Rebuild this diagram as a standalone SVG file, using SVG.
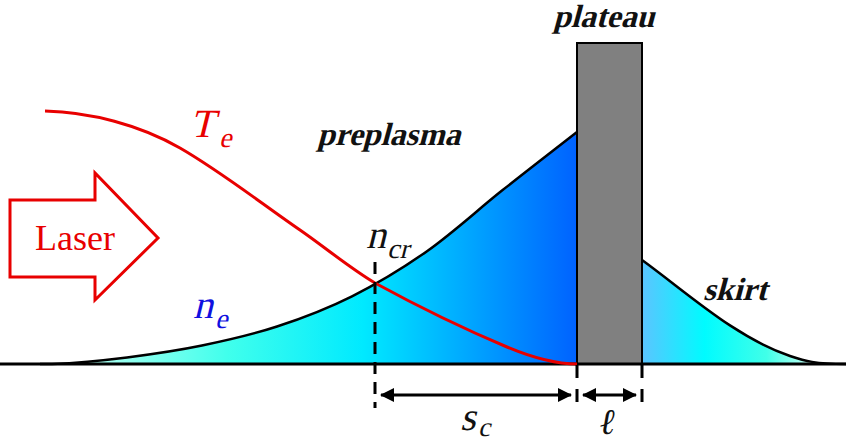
<svg xmlns="http://www.w3.org/2000/svg" width="846" height="441" viewBox="0 0 846 441">
<defs>
<linearGradient id="gPre" gradientUnits="userSpaceOnUse" x1="40" y1="0" x2="577" y2="0">
<stop offset="0" stop-color="#d8fff2"/>
<stop offset="0.35" stop-color="#40ffec"/>
<stop offset="0.6" stop-color="#00eaff"/>
<stop offset="1" stop-color="#0062ff"/>
</linearGradient>
<linearGradient id="gSkirt" gradientUnits="userSpaceOnUse" x1="642" y1="0" x2="820" y2="0">
<stop offset="0" stop-color="#5cc4ff"/>
<stop offset="0.35" stop-color="#00fbff"/>
<stop offset="0.7" stop-color="#40ffe8"/>
<stop offset="1" stop-color="#e0fff6"/>
</linearGradient>
<marker id="ah" viewBox="0 0 14 14" refX="13" refY="7" markerWidth="14" markerHeight="14" markerUnits="userSpaceOnUse" orient="auto-start-reverse">
<path d="M0,0 L14,7 L0,14 Z" fill="#000"/>
</marker>
</defs>
<style>
.curve{fill:none;stroke:#000;stroke-width:2.5;stroke-linejoin:round}
.red{fill:none;stroke:#e80000;stroke-width:3}
.dash{stroke:#000;stroke-width:3;stroke-dasharray:12 8}
.dim{stroke:#000;stroke-width:3;marker-start:url(#ah);marker-end:url(#ah)}
.math{font-family:"Liberation Serif","Times New Roman",serif;font-style:normal}
.lab{font-family:"Liberation Serif","Times New Roman",serif;font-weight:bold;font-size:32px;fill:#111}
</style>

<g id="preplasma">
<path fill="url(#gPre)" d="M52,364 C77,362.9 102,360.5 127,357.4 C152,354.3 177,350.65 202,345.5 C227,340.35 252,334.7 277,326.5 C302,318.3 327,308.85 352,296.3 C377,283.75 402,268.8 427,251.2 C452,233.6 477,210.5 502,190.6 C527,170.7 552,151.5 577,132 L577,364 Z"/>
<path class="curve" d="M40,364 L52,364 C77,362.9 102,360.5 127,357.4 C152,354.3 177,350.65 202,345.5 C227,340.35 252,334.7 277,326.5 C302,318.3 327,308.85 352,296.3 C377,283.75 402,268.8 427,251.2 C452,233.6 477,210.5 502,190.6 C527,170.7 552,151.5 577,132"/>
<text class="lab" transform="translate(317,145) skewX(-15)" font-size="31">preplasma</text>
</g>

<g id="skirt">
<path fill="url(#gSkirt)" d="M642,260 C690,295 735,337 790,356 C805,361 815,364 830,364 L642,364 Z"/>
<path class="curve" d="M642,260 C690,295 735,337 790,356 C805,361 815,364 846,364"/>
<text class="lab" transform="translate(703,300) skewX(-15)">skirt</text>
</g>

<g id="plateau">
<rect x="577" y="43" width="65" height="321" fill="#808080" stroke="#000" stroke-width="2"/>
<text class="lab" transform="translate(553,27) skewX(-15)">plateau</text>
</g>

<g id="axis">
<line x1="0" y1="364" x2="846" y2="364" stroke="#000" stroke-width="3"/>
</g>

<g id="Te">
<path class="red" d="M45,111 C90,112 140,125 180,148 C220,171 260,202.4 300,230 C325,247.3 350,268.2 375,283 C419,307 463,328.5 507,347 C530,356.7 555,364 577,364"/>
<text class="math" transform="translate(190,137) skewX(-14)" font-size="40" fill="#e80000">T</text>
<text class="math" transform="translate(219,147) skewX(-14)" font-size="28" fill="#e80000">e</text>
</g>

<g id="ne">
<text class="math" transform="translate(193,318) skewX(-14)" font-size="40" fill="#1010e0">n</text>
<text class="math" transform="translate(215,328) skewX(-14)" font-size="28" fill="#1010e0">e</text>
</g>

<g id="laser">
<polygon points="10,200 95,200 95,173 158,238 95,300 95,277 10,277" fill="#fff" stroke="#e80000" stroke-width="3" stroke-linejoin="miter"/>
<text x="75" y="250" font-family="'Liberation Serif','Times New Roman',serif" font-size="36" fill="#e80000" text-anchor="middle">Laser</text>
</g>

<g id="connectors">
<line class="dash" x1="375" y1="262" x2="375" y2="408"/>
<line class="dash" x1="577" y1="365" x2="577" y2="408" style="stroke-dasharray:13 11"/>
<line class="dash" x1="642" y1="365" x2="642" y2="408" style="stroke-dasharray:13 11"/>
<line class="dim" x1="381" y1="395" x2="571" y2="395"/>
<line class="dim" x1="583" y1="395" x2="636" y2="395"/>
</g>

<g id="labels">
<text class="math" transform="translate(366,248) skewX(-14)" font-size="40" fill="#111">n</text>
<text class="math" transform="translate(387,258) skewX(-14)" font-size="28" fill="#111">cr</text>
<text class="math" transform="translate(460,430) skewX(-14)" font-size="40" fill="#111">s</text>
<text class="math" transform="translate(478,436) skewX(-14)" font-size="27" fill="#111">c</text>
<text class="math" transform="translate(597,434) skewX(-10)" font-size="36" fill="#111">ℓ</text>
</g>
</svg>
